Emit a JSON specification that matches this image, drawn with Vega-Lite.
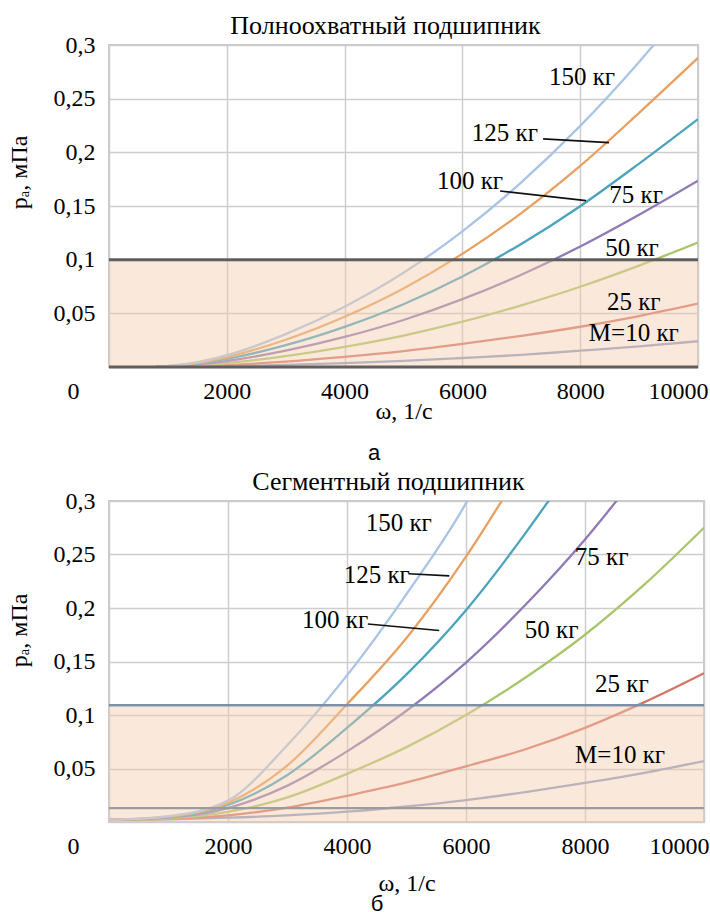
{
  "$schema": "https://vega.github.io/schema/vega-lite/v6.json",
  "padding": {"left": 6, "top": 12, "right": 0, "bottom": 0},
  "background": "white",
  "datasets": {
    "top": [
      {"w":800,"p":0,"m":10},{"w":1500,"p":0.0003,"m":10},{"w":2000,"p":0.0008,"m":10},{"w":3000,"p":0.0019,"m":10},{"w":4000,"p":0.0036,"m":10},{"w":5000,"p":0.0057,"m":10},{"w":6000,"p":0.0084,"m":10},{"w":7000,"p":0.0113,"m":10},{"w":8000,"p":0.0152,"m":10},{"w":9000,"p":0.0192,"m":10},{"w":10000,"p":0.024,"m":10},
      {"w":800,"p":0,"m":25},{"w":1500,"p":0.0008,"m":25},{"w":2000,"p":0.0018,"m":25},{"w":3000,"p":0.005,"m":25},{"w":4000,"p":0.0094,"m":25},{"w":5000,"p":0.0148,"m":25},{"w":6000,"p":0.0215,"m":25},{"w":7000,"p":0.029,"m":25},{"w":8000,"p":0.0375,"m":25},{"w":9000,"p":0.0475,"m":25},{"w":10000,"p":0.059,"m":25},
      {"w":800,"p":0,"m":50},{"w":1500,"p":0.0015,"m":50},{"w":2000,"p":0.0036,"m":50},{"w":3000,"p":0.0102,"m":50},{"w":4000,"p":0.0188,"m":50},{"w":5000,"p":0.0293,"m":50},{"w":6000,"p":0.0422,"m":50},{"w":7000,"p":0.0575,"m":50},{"w":8000,"p":0.0748,"m":50},{"w":9000,"p":0.0945,"m":50},{"w":10000,"p":0.116,"m":50},
      {"w":800,"p":0,"m":75},{"w":1500,"p":0.0024,"m":75},{"w":2000,"p":0.0056,"m":75},{"w":3000,"p":0.0152,"m":75},{"w":4000,"p":0.028,"m":75},{"w":5000,"p":0.0438,"m":75},{"w":6000,"p":0.0632,"m":75},{"w":7000,"p":0.086,"m":75},{"w":8000,"p":0.1122,"m":75},{"w":9000,"p":0.1418,"m":75},{"w":10000,"p":0.1735,"m":75},
      {"w":800,"p":0,"m":100},{"w":1500,"p":0.003,"m":100},{"w":2000,"p":0.0075,"m":100},{"w":3000,"p":0.0203,"m":100},{"w":4000,"p":0.0374,"m":100},{"w":5000,"p":0.0585,"m":100},{"w":6000,"p":0.0843,"m":100},{"w":7000,"p":0.1147,"m":100},{"w":8000,"p":0.1498,"m":100},{"w":9000,"p":0.1895,"m":100},{"w":10000,"p":0.231,"m":100},
      {"w":800,"p":0,"m":125},{"w":1500,"p":0.0038,"m":125},{"w":2000,"p":0.0092,"m":125},{"w":3000,"p":0.0254,"m":125},{"w":4000,"p":0.0468,"m":125},{"w":5000,"p":0.0732,"m":125},{"w":6000,"p":0.1054,"m":125},{"w":7000,"p":0.1434,"m":125},{"w":8000,"p":0.1873,"m":125},{"w":9000,"p":0.2368,"m":125},{"w":10000,"p":0.288,"m":125},
      {"w":800,"p":0,"m":150},{"w":1500,"p":0.0045,"m":150},{"w":2000,"p":0.011,"m":150},{"w":3000,"p":0.0306,"m":150},{"w":4000,"p":0.0562,"m":150},{"w":5000,"p":0.0878,"m":150},{"w":6000,"p":0.1264,"m":150},{"w":7000,"p":0.172,"m":150},{"w":8000,"p":0.2246,"m":150},{"w":9000,"p":0.2842,"m":150},{"w":9500,"p":0.3165,"m":150}
    ],
    "bottom": [
      {"w":0,"p":0.002,"m":10},{"w":1000,"p":0.0025,"m":10},{"w":2000,"p":0.004,"m":10},{"w":3000,"p":0.0062,"m":10},{"w":4000,"p":0.0096,"m":10},{"w":5000,"p":0.0145,"m":10},{"w":6000,"p":0.0205,"m":10},{"w":7000,"p":0.028,"m":10},{"w":8000,"p":0.0365,"m":10},{"w":9000,"p":0.046,"m":10},{"w":10000,"p":0.057,"m":10},
      {"w":0,"p":0.002,"m":25},{"w":1000,"p":0.003,"m":25},{"w":2000,"p":0.0062,"m":25},{"w":3000,"p":0.0135,"m":25},{"w":4000,"p":0.0245,"m":25},{"w":5000,"p":0.037,"m":25},{"w":6000,"p":0.052,"m":25},{"w":7000,"p":0.068,"m":25},{"w":8000,"p":0.088,"m":25},{"w":9000,"p":0.112,"m":25},{"w":10000,"p":0.139,"m":25},
      {"w":0,"p":0.002,"m":50},{"w":1000,"p":0.0035,"m":50},{"w":2000,"p":0.0095,"m":50},{"w":3000,"p":0.023,"m":50},{"w":4000,"p":0.045,"m":50},{"w":5000,"p":0.07,"m":50},{"w":6000,"p":0.1,"m":50},{"w":7000,"p":0.135,"m":50},{"w":8000,"p":0.175,"m":50},{"w":9000,"p":0.222,"m":50},{"w":10000,"p":0.275,"m":50},
      {"w":0,"p":0.002,"m":75},{"w":1000,"p":0.004,"m":75},{"w":2000,"p":0.013,"m":75},{"w":3000,"p":0.034,"m":75},{"w":4000,"p":0.066,"m":75},{"w":5000,"p":0.104,"m":75},{"w":6000,"p":0.149,"m":75},{"w":7000,"p":0.203,"m":75},{"w":8000,"p":0.264,"m":75},{"w":8600,"p":0.305,"m":75},
      {"w":0,"p":0.002,"m":100},{"w":1000,"p":0.0045,"m":100},{"w":2000,"p":0.016,"m":100},{"w":3000,"p":0.044,"m":100},{"w":4000,"p":0.088,"m":100},{"w":5000,"p":0.138,"m":100},{"w":6000,"p":0.198,"m":100},{"w":7000,"p":0.27,"m":100},{"w":7500,"p":0.309,"m":100},
      {"w":0,"p":0.002,"m":125},{"w":1000,"p":0.005,"m":125},{"w":2000,"p":0.018,"m":125},{"w":3000,"p":0.053,"m":125},{"w":4000,"p":0.11,"m":125},{"w":5000,"p":0.172,"m":125},{"w":6000,"p":0.248,"m":125},{"w":6700,"p":0.309,"m":125},
      {"w":0,"p":0.002,"m":150},{"w":1000,"p":0.0055,"m":150},{"w":2000,"p":0.02,"m":150},{"w":3000,"p":0.072,"m":150},{"w":4000,"p":0.137,"m":150},{"w":5000,"p":0.213,"m":150},{"w":6000,"p":0.298,"m":150},{"w":6100,"p":0.308,"m":150}
    ],
    "topLabels": [
      {"w":8030,"p":0.270,"t":"150 кг"},{"w":6720,"p":0.218,"t":"125 кг"},{"w":6130,"p":0.173,"t":"100 кг"},{"w":8950,"p":0.160,"t":"75 кг"},{"w":8880,"p":0.111,"t":"50 кг"},{"w":8910,"p":0.061,"t":"25 кг"},{"w":8910,"p":0.032,"t":"M=10 кг"}
    ],
    "bottomLabels": [
      {"w":4870,"p":0.279,"t":"150 кг"},{"w":4500,"p":0.2305,"t":"125 кг"},{"w":3800,"p":0.1885,"t":"100 кг"},{"w":8280,"p":0.2477,"t":"75 кг"},{"w":7440,"p":0.179,"t":"50 кг"},{"w":8620,"p":0.129,"t":"25 кг"},{"w":8590,"p":0.0626,"t":"M=10 кг"}
    ],
    "topLeaders": [
      {"w":7370,"p":0.2125,"w2":8490,"p2":0.209},{"w":6640,"p":0.164,"w2":8100,"p2":0.155}
    ],
    "bottomLeaders": [
      {"w":5040,"p":0.232,"w2":5720,"p2":0.230},{"w":4350,"p":0.185,"w2":5550,"p2":0.179}
    ],
    "topBand": [{"w":0,"w2":10000,"p":0,"p2":0.1}],
    "bottomBand": [{"w":0,"w2":10000,"p":0,"p2":0.108}],
    "topRules": [{"p":0.1},{"p":0}],
    "bottomRuleHigh": [{"p":0.109}],
    "bottomRuleLow": [{"p":0.013}]
  },
  "config": {
    "font": "Liberation Serif",
    "view": {"stroke": "#c8c8c8", "strokeWidth": 2},
    "axis": {
      "grid": true, "gridColor": "#cdcdcd", "gridWidth": 1.5, "ticks": false, "domain": false,
      "labelFont": "Liberation Serif", "labelFontSize": 24, "labelColor": "#000",
      "titleFont": "Liberation Serif", "titleFontSize": 24, "titleFontWeight": "normal", "titleColor": "#000"
    },
    "title": {"font": "Liberation Serif", "fontSize": 26, "fontWeight": "normal", "color": "#000"},
    "concat": {"spacing": 4}
  },
  "vconcat": [
    {
      "title": {"text": "а", "orient": "bottom", "anchor": "middle", "frame": "group", "font": "Liberation Sans", "fontSize": 22, "offset": 19, "dx": 265},
      "vconcat": [
        {
          "title": {"text": "Полноохватный подшипник", "offset": -6, "dx": -18},
          "width": 589, "height": 322,
          "layer": [
            {
              "data": {"name": "top"},
              "mark": {"type": "line", "strokeWidth": 2.3, "clip": true, "interpolate": "monotone"},
              "encoding": {
                "x": {"field": "w", "type": "quantitative", "scale": {"domain": [0, 10000], "nice": false},
                  "axis": {"values": [0, 2000, 4000, 6000, 8000, 10000], "format": "d", "title": "ω, 1/с", "labelPadding": 12, "titlePadding": -4,
                    "labelOffset": {"condition": [{"test": "datum.value == 0", "value": -36}, {"test": "datum.value == 10000", "value": 10}], "value": 0},
                    "labelAlign": {"condition": {"test": "datum.value == 10000", "value": "right"}, "value": "center"}}},
                "y": {"field": "p", "type": "quantitative", "scale": {"domain": [0, 0.3], "nice": false},
                  "axis": {"values": [0, 0.05, 0.1, 0.15, 0.2, 0.25, 0.3], "title": "pₐ, мПа", "labelPadding": 14, "titleX": -78, "titleY": 127, "titleBaseline": "bottom",
                    "labelExpr": "datum.value == 0 ? '' : replace(format(datum.value, '.2~f'), '.', ',')"}},
                "color": {"field": "m", "type": "nominal", "legend": null,
                  "scale": {"domain": [10, 25, 50, 75, 100, 125, 150], "range": ["#8d9dc8", "#d4756a", "#a9c56b", "#8e7ab5", "#4ba3bd", "#e8a060", "#a9c4e4"]}},
                "detail": {"field": "m"}
              }
            },
            {
              "data": {"name": "topBand"},
              "mark": {"type": "rect", "color": "#f5cfae", "opacity": 0.45},
              "encoding": {"x": {"field": "w", "type": "quantitative"}, "x2": {"field": "w2"}, "y": {"field": "p", "type": "quantitative"}, "y2": {"field": "p2"}}
            },
            {
              "data": {"name": "topRules"},
              "mark": {"type": "rule", "color": "#5f5f5f", "strokeWidth": 3},
              "encoding": {"y": {"field": "p", "type": "quantitative"}}
            },
            {
              "data": {"name": "topLeaders"},
              "mark": {"type": "rule", "color": "#111", "strokeWidth": 1.6},
              "encoding": {"x": {"field": "w", "type": "quantitative"}, "x2": {"field": "w2"}, "y": {"field": "p", "type": "quantitative"}, "y2": {"field": "p2"}}
            },
            {
              "data": {"name": "topLabels"},
              "mark": {"type": "text", "font": "Liberation Serif", "fontSize": 25, "color": "#000", "align": "center", "baseline": "middle"},
              "encoding": {"x": {"field": "w", "type": "quantitative"}, "y": {"field": "p", "type": "quantitative"}, "text": {"field": "t"}}
            }
          ]
        }
      ]
    },
    {
      "title": {"text": "б", "orient": "bottom", "anchor": "middle", "frame": "group", "font": "Liberation Sans", "fontSize": 22, "offset": -2, "dx": 268},
      "vconcat": [
        {
          "title": {"text": "Сегментный подшипник", "offset": -6, "dx": -18},
          "width": 595, "height": 321,
          "layer": [
            {
              "data": {"name": "bottom"},
              "mark": {"type": "line", "strokeWidth": 2.3, "clip": true, "interpolate": "monotone"},
              "encoding": {
                "x": {"field": "w", "type": "quantitative", "scale": {"domain": [0, 10000], "nice": false},
                  "axis": {"values": [0, 2000, 4000, 6000, 8000, 10000], "format": "d", "title": "ω, 1/с", "labelPadding": 12, "titlePadding": 13,
                    "labelOffset": {"condition": [{"test": "datum.value == 0", "value": -36}, {"test": "datum.value == 10000", "value": 5}], "value": 0},
                    "labelAlign": {"condition": {"test": "datum.value == 10000", "value": "right"}, "value": "center"}}},
                "y": {"field": "p", "type": "quantitative", "scale": {"domain": [0, 0.3], "nice": false},
                  "axis": {"values": [0, 0.05, 0.1, 0.15, 0.2, 0.25, 0.3], "title": "pₐ, мПа", "labelPadding": 14, "titleX": -78, "titleY": 129, "titleBaseline": "bottom",
                    "labelExpr": "datum.value == 0 ? '' : replace(format(datum.value, '.2~f'), '.', ',')"}},
                "color": {"field": "m", "type": "nominal", "legend": null,
                  "scale": {"domain": [10, 25, 50, 75, 100, 125, 150], "range": ["#8d9dc8", "#d4756a", "#a9c56b", "#8e7ab5", "#4ba3bd", "#e8a060", "#a9c4e4"]}},
                "detail": {"field": "m"}
              }
            },
            {
              "data": {"name": "bottomBand"},
              "mark": {"type": "rect", "color": "#f5cfae", "opacity": 0.45},
              "encoding": {"x": {"field": "w", "type": "quantitative"}, "x2": {"field": "w2"}, "y": {"field": "p", "type": "quantitative"}, "y2": {"field": "p2"}}
            },
            {
              "data": {"name": "bottomRuleHigh"},
              "mark": {"type": "rule", "color": "#7f90a6", "strokeWidth": 2.5},
              "encoding": {"y": {"field": "p", "type": "quantitative"}}
            },
            {
              "data": {"name": "bottomRuleLow"},
              "mark": {"type": "rule", "color": "#9c9c9c", "strokeWidth": 2.2},
              "encoding": {"y": {"field": "p", "type": "quantitative"}}
            },
            {
              "data": {"name": "bottomLeaders"},
              "mark": {"type": "rule", "color": "#111", "strokeWidth": 1.6},
              "encoding": {"x": {"field": "w", "type": "quantitative"}, "x2": {"field": "w2"}, "y": {"field": "p", "type": "quantitative"}, "y2": {"field": "p2"}}
            },
            {
              "data": {"name": "bottomLabels"},
              "mark": {"type": "text", "font": "Liberation Serif", "fontSize": 25, "color": "#000", "align": "center", "baseline": "middle"},
              "encoding": {"x": {"field": "w", "type": "quantitative"}, "y": {"field": "p", "type": "quantitative"}, "text": {"field": "t"}}
            }
          ]
        }
      ]
    }
  ]
}
